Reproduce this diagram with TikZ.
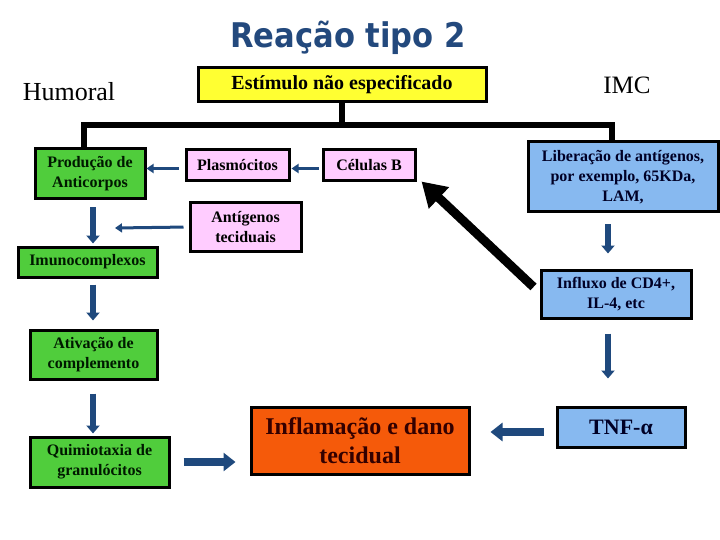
\documentclass[tikz,border=0pt]{standalone}
\usepackage{fontspec}
\setmainfont{Liberation Serif}
\newfontfamily\titlefont{DejaVu Sans Condensed}
\usetikzlibrary{arrows.meta}

\definecolor{titleblue}{RGB}{35,73,125}
\definecolor{arrowblue}{RGB}{31,73,125}
\definecolor{boxgreen}{RGB}{80,205,60}
\definecolor{boxpink}{RGB}{255,204,255}
\definecolor{boxblue}{RGB}{135,185,240}
\definecolor{boxyellow}{RGB}{255,255,50}
\definecolor{boxorange}{RGB}{245,90,10}

\tikzset{
	box/.style = {draw = black, line width = 3pt, inner sep = 0pt, align = center,
		font = \fontsize{16}{20}\selectfont\bfseries},
	greenbox/.style = {box, fill = boxgreen, text = black!90!green},
	pinkbox/.style = {box, fill = boxpink},
	bluebox/.style = {box, fill = boxblue, text = black!85!blue},
	thinarrow/.style = {draw = arrowblue, line width = 3pt, -{Triangle[length = 7pt, width = 9pt]}},
	fatarrow/.style = {draw = arrowblue, line width = 6pt, -{Triangle[length = 8pt, width = 13pt]}},
	widearrow/.style = {draw = arrowblue, line width = 8pt, -{Triangle[length = 12pt, width = 18pt]}},
}

\begin{document}
\begin{tikzpicture}[x = 1pt, y = -1pt]
	\useasboundingbox (0, 0) rectangle (720, 540);

	\node (title) at (348, 38) {\titlefont\bfseries\fontsize{34}{36}\selectfont\color{titleblue}Reação tipo 2};
	\node (humoral) at (69, 92) {\fontsize{26}{28}\selectfont Humoral};
	\node (imc) at (627, 85) {\fontsize{25}{28}\selectfont IMC};
	\node [box, fill = boxyellow, minimum width = 288pt, minimum height = 34pt,
		font = \fontsize{20}{22}\selectfont\bfseries] (estimulo) at (342, 85) {Estímulo não especificado};

	% left column (humoral)
	\node [greenbox, minimum width = 110pt, minimum height = 50pt] (producao) at (90, 174) {Produção de\\Anticorpos};
	\node [greenbox, minimum width = 139pt, minimum height = 30pt] (imuno) at (87.5, 262) {Imunocomplexos};
	\node [greenbox, minimum width = 127pt, minimum height = 49pt] (ativacao) at (93.5, 354.5) {Ativação de\\complemento};
	\node [greenbox, minimum width = 139pt, minimum height = 50pt] (quimio) at (99.5, 462) {Quimiotaxia de\\granulócitos};

	% middle
	\node [pinkbox, minimum width = 103pt, minimum height = 31pt] (plasmo) at (237.5, 165.5) {Plasmócitos};
	\node [pinkbox, minimum width = 92pt, minimum height = 31pt] (celulasB) at (369, 165.5) {Células B};
	\node [pinkbox, minimum width = 111pt, minimum height = 48pt] (antigenos) at (245.5, 227) {Antígenos\\teciduais};
	\node [box, fill = boxorange, text = black!80!red, minimum width = 218pt, minimum height = 67pt,
		font = \fontsize{24}{29}\selectfont\bfseries] (inflam) at (360, 440.5) {Inflamação e dano\\tecidual};

	% right column (IMC)
	\node [bluebox, minimum width = 190pt, minimum height = 70pt] (liberacao) at (623, 177) {Liberação de antígenos,\\por exemplo, 65KDa,\\LAM,};
	\node [bluebox, minimum width = 150pt, minimum height = 48pt] (influxo) at (616, 294) {Influxo de CD4+,\\IL-4, etc};
	\node [bluebox, minimum width = 128pt, minimum height = 40pt, font = \fontsize{22}{26}\selectfont\bfseries] (tnf) at (621, 427) {TNF-α};

	% tree under the stimulus
	\coordinate (barL) at (84, 125);
	\coordinate (barR) at (612, 125);
	\draw [line width = 6pt, line join = miter] (estimulo.south) -- (estimulo.south |- barL);
	\draw [line width = 6pt, line join = miter] (producao.north -| barL) -- (barL) -- (barR) -- (liberacao.north -| barR);

	% humoral chain
	\draw [thinarrow, shorten <= 6pt] ([yshift = -3pt]plasmo.west) -- ([yshift = -3pt]plasmo.west -| producao.east);
	\draw [thinarrow, shorten <= 3pt, shorten >= 1pt] ([yshift = -3pt]celulasB.west) -- ([yshift = -3pt]celulasB.west -| plasmo.east);
	\coordinate (antTip) at (115, 228);
	\draw [thinarrow, shorten <= 5pt] (antigenos.west) -- (antTip);
	\draw [fatarrow, shorten <= 7pt, shorten >= 2pt] ([xshift = 3pt]producao.south) -- ([xshift = 3pt]producao.south |- imuno.north);
	\draw [fatarrow, shorten <= 6pt, shorten >= 8pt] ([xshift = 5.5pt]imuno.south) -- ([xshift = 5.5pt]imuno.south |- ativacao.north);
	\draw [fatarrow, shorten <= 13pt, shorten >= 2pt] ([xshift = -0.5pt]ativacao.south) -- ([xshift = -0.5pt]ativacao.south |- quimio.north);
	\draw [widearrow, shorten <= 13pt, shorten >= 14pt] (quimio.east) -- (quimio.east -| inflam.west);

	% IMC chain
	\draw [fatarrow, shorten <= 11pt, shorten >= 15pt] ([xshift = -15pt]liberacao.south) -- ([xshift = -15pt]liberacao.south |- influxo.north);
	\draw [fatarrow, shorten <= 14pt, shorten >= 27pt] ([xshift = -8pt]influxo.south) -- ([xshift = -8pt]influxo.south |- tnf.north);
	\draw [widearrow, shorten <= 12pt, shorten >= 20pt] ([yshift = -5pt]tnf.west) -- ([yshift = -5pt]tnf.west -| inflam.east);
	\draw [line width = 9pt, -{Triangle[length = 24pt, width = 28pt]}]
		([xshift = -6pt, yshift = 7pt]influxo.west) -- ([xshift = 5pt, yshift = 1pt]celulasB.south east);
\end{tikzpicture}
\end{document}
